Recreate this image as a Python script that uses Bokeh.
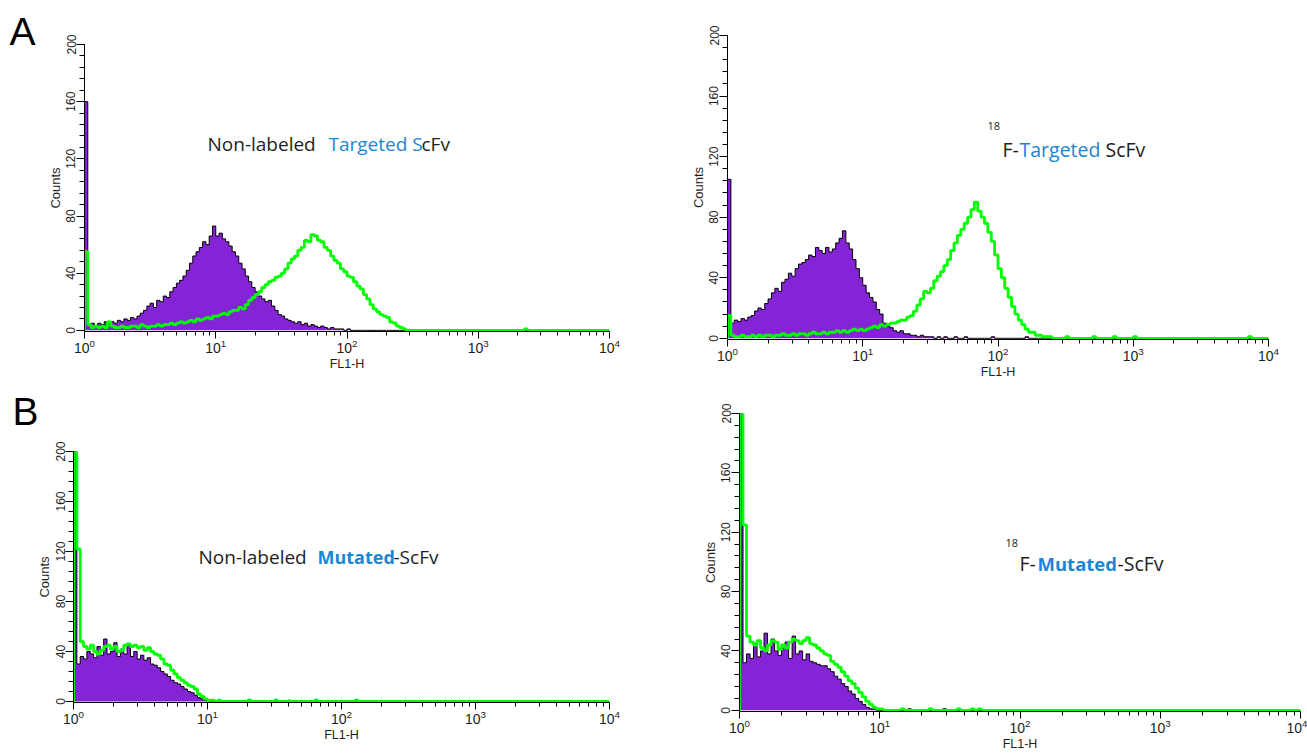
import numpy as np
from bokeh.plotting import figure
from bokeh.models import Range1d, FixedTicker, SingleIntervalTicker, Label, LogTickFormatter
from bokeh.layouts import row, column
from bokeh.embed import file_html
from bokeh.resources import INLINE

# ---------------- data (counts per log channel, 40 channels per decade) ----------------
N_CH = 161
channel = np.arange(N_CH)
fl1 = 10 ** (channel / 40.0)          # FL1-H channel centres, 10^0 .. 10^4

x_ticks = [1, 10, 100, 1000, 10000]
x_tick_minor = [m * 10 ** d for d in range(4) for m in range(2, 10)]

# Panel A, left: Non-labeled Targeted ScFv
a_left_purple = [160, 4, 5, 3, 5, 4, 6, 5, 6, 5, 7, 6, 8, 7, 9, 8, 10, 12, 14, 17,
                 19, 16, 21, 20, 24, 23, 27, 30, 33, 35, 38, 42, 47, 52, 55, 58, 62, 60, 66, 73,
                 66, 68, 64, 62, 59, 55, 52, 47, 43, 38, 34, 30, 27, 24, 22, 20, 21, 17, 14, 11,
                 10, 8, 7, 6, 5, 6, 4, 5, 3, 4, 3, 2, 3, 2, 1, 2, 1, 1, 1, 0, 1]
a_left_purple_blips = {}
a_left_green = [55, 4, 2, 3, 2, 3, 2, 6, 3, 2, 2, 3, 2, 2, 3, 3, 2, 4, 3, 2,
                3, 3, 4, 3, 4, 4, 5, 4, 5, 6, 5, 6, 7, 6, 8, 7, 8, 9, 8, 10,
                10, 11, 12, 11, 13, 14, 14, 16, 15, 18, 21, 23, 25, 27, 30, 32, 34, 35, 37, 38,
                40, 43, 47, 50, 52, 56, 58, 63, 62, 67, 66, 63, 62, 58, 56, 52, 49, 47, 43, 41,
                38, 37, 34, 31, 29, 25, 22, 18, 15, 13, 11, 10, 9, 6, 5, 3, 2, 1]
a_left_green_blips = {134: 1}

# Panel A, right: 18F-Targeted ScFv
a_right_purple = [105, 10, 12, 11, 13, 12, 14, 15, 18, 20, 19, 23, 26, 30, 33, 31, 37, 39, 43, 41,
                  46, 49, 50, 52, 55, 54, 60, 58, 56, 60, 57, 59, 63, 66, 71, 63, 59, 52, 46, 40,
                  35, 30, 27, 24, 19, 16, 10, 8, 7, 5, 4, 5, 3, 3, 2, 2, 1, 2, 1, 1,
                  1, 0, 1, 0, 1, 0, 0, 1, 0, 0, 1]
a_right_purple_blips = {78: 1, 88: 1}
a_right_green = [15, 2, 1, 1, 2, 1, 1, 2, 1, 2, 1, 2, 2, 1, 2, 2, 3, 2, 2, 3,
                 2, 3, 3, 2, 3, 4, 3, 3, 4, 3, 4, 4, 5, 4, 5, 4, 5, 6, 5, 6,
                 5, 6, 7, 8, 7, 9, 8, 9, 10, 10, 11, 12, 12, 14, 15, 18, 22, 26, 31, 30,
                 33, 38, 41, 44, 48, 52, 58, 63, 68, 72, 76, 80, 85, 90, 84, 80, 76, 70, 64, 55,
                 46, 40, 33, 27, 21, 16, 12, 9, 6, 4, 4, 2, 2, 1, 1, 1]
a_right_green_blips = {100: 1, 108: 1, 114: 1, 120: 1, 154: 1}

# Panel B, left: Non-labeled Mutated-ScFv
b_left_purple = [200, 30, 36, 34, 40, 38, 35, 44, 37, 50, 38, 40, 47, 36, 42, 38, 45, 36, 40, 34,
                 37, 33, 35, 30, 29, 27, 24, 22, 20, 17, 15, 14, 12, 10, 8, 7, 5, 3, 2, 1, 1]
b_left_purple_blips = {52: 1, 64: 1}
b_left_green = [200, 122, 48, 44, 42, 45, 40, 38, 41, 44, 45, 42, 44, 40, 41, 45, 46, 44, 45, 43,
                44, 41, 43, 40, 38, 37, 34, 30, 29, 25, 22, 19, 17, 15, 13, 12, 10, 6, 4, 2,
                1, 1, 0, 1]
b_left_green_blips = {52: 1, 60: 1, 72: 1, 84: 1}

# Panel B, right: 18F-Mutated-ScFv
b_right_purple = [200, 32, 38, 35, 45, 36, 40, 52, 38, 48, 40, 37, 42, 46, 35, 50, 38, 40, 34, 38,
                  33, 32, 31, 30, 30, 28, 26, 23, 21, 18, 16, 13, 11, 8, 6, 4, 2, 1, 1]
b_right_purple_blips = {48: 1, 58: 1}
b_right_green = [200, 125, 50, 46, 44, 47, 42, 40, 44, 47, 46, 41, 44, 42, 46, 48, 47, 45, 47, 49,
                 45, 44, 42, 40, 38, 37, 33, 31, 29, 26, 23, 20, 18, 15, 12, 9, 6, 4, 2, 1, 1]
b_right_green_blips = {46: 1, 54: 1, 62: 1, 66: 1, 68: 1}

PURPLE = "#8424D6"
GREEN = "#00FF00"
BLUE = "#1B86D1"
DARK = "#1e1e1e"
AXIS_FONT = "Liberation Sans"
TITLE_FONT = "Open Sans"


def full(head, blips):
    vals = list(head) + [0] * (N_CH - len(head))
    for k, v in blips.items():
        vals[k] = v
    return vals


def make_panel(purple, green, left, fw, right, top, fh, bottom):
    p = figure(frame_width=fw, frame_height=fh, min_border_left=left, min_border_right=right,
               min_border_top=top, min_border_bottom=bottom, x_axis_type="log",
               x_range=Range1d(1, 10000), y_range=Range1d(-0.8, 200),
               output_backend="svg", toolbar_location=None, title=None)
    p.xgrid.visible = False
    p.ygrid.visible = False
    p.outline_line_color = None
    p.background_fill_color = "white"
    p.border_fill_color = "white"

    xl = [fl1[0]] + list(fl1)
    p.varea_step(x=list(fl1), y1=[0] * N_CH, y2=purple, step_mode="after",
                 fill_color=PURPLE, fill_alpha=1.0)
    p.step(x=xl, y=[0] + purple, mode="after", line_color="black", line_width=1)
    p.step(x=xl, y=[0] + green, mode="after", line_color=GREEN, line_width=2.8)

    xa = p.xaxis[0]
    xa.ticker = FixedTicker(ticks=x_ticks, minor_ticks=x_tick_minor)
    xa.formatter = LogTickFormatter(min_exponent=0)
    xa.major_label_text_font = AXIS_FONT
    xa.major_label_text_font_size = "14px"
    xa.major_label_text_color = DARK
    xa.major_tick_out = 7
    xa.major_tick_in = 0
    xa.minor_tick_out = 4
    xa.minor_tick_in = 0
    xa.major_label_standoff = 0
    xa.axis_line_color = "black"
    xa.axis_label = "FL1-H"
    xa.axis_label_text_font = AXIS_FONT
    xa.axis_label_text_font_size = "12.5px"
    xa.axis_label_text_font_style = "normal"
    xa.axis_label_text_color = DARK
    xa.axis_label_standoff = 1

    ya = p.yaxis[0]
    ya.ticker = SingleIntervalTicker(interval=40, num_minor_ticks=5)
    ya.major_label_orientation = "vertical"
    ya.major_label_text_font = AXIS_FONT
    ya.major_label_text_font_size = "12px"
    ya.major_label_text_color = DARK
    ya.major_tick_out = 8
    ya.major_tick_in = 0
    ya.minor_tick_out = 5
    ya.minor_tick_in = 0
    ya.major_label_standoff = 1
    ya.axis_label = "Counts"
    ya.axis_label_text_font = AXIS_FONT
    ya.axis_label_text_font_size = "13px"
    ya.axis_label_text_font_style = "normal"
    ya.axis_label_text_color = DARK
    ya.axis_label_standoff = 1
    return p


def seg(p, x, y, text, color=DARK, size="19px", style="normal", baseline="alphabetic",
        font=TITLE_FONT, place="center"):
    lab = Label(x=x, y=y, x_units="screen", y_units="screen", text=text,
                text_color=color, text_font=font, text_font_size=size,
                text_font_style=style, text_baseline=baseline, text_align="left")
    p.add_layout(lab, place)


pA1 = make_panel(full(a_left_purple, a_left_purple_blips), full(a_left_green, a_left_green_blips),
                 84, 525, 41, 44, 287, 54)
pA2 = make_panel(full(a_right_purple, a_right_purple_blips), full(a_right_green, a_right_green_blips),
                 77, 541, 39, 35, 304, 46)
pB1 = make_panel(full(b_left_purple, b_left_purple_blips), full(b_left_green, b_left_green_blips),
                 73, 536, 41, 66, 251, 52)
pB2 = make_panel(full(b_right_purple, b_right_purple_blips), full(b_right_green, b_right_green_blips),
                 89, 561, 7, 28, 298, 43)

# panel letters (in the left border panel, so they are not clipped to the frame)
seg(pA1, -9, 300, "A", size="39px", font=AXIS_FONT, color="black", place="left")
seg(pB1, 5, 291, "B", size="39px", font=AXIS_FONT, color="black", place="left")

# titles
seg(pA1, 123, 188, "Non-labeled", size="19px")
seg(pA1, 244, 188, "Targeted S", color=BLUE, size="19px")
seg(pA1, 337, 188, "cFv", size="19px")

seg(pA2, 260, 218, "18", size="11px", baseline="top")
seg(pA2, 275, 190, "F-", size="19.5px")
seg(pA2, 292, 190, "Targeted", color=BLUE, size="19.5px")
seg(pA2, 378, 190, "ScFv", size="19.5px")

seg(pB1, 125, 146, "Non-labeled", size="19px")
seg(pB1, 244, 146, "Mutated", color=BLUE, size="18px", style="bold")
seg(pB1, 320, 146, "-ScFv", size="19px")

seg(pB2, 266, 173, "18", size="11px", baseline="top")
seg(pB2, 280, 148, "F-", size="19.5px")
seg(pB2, 298, 148, "Mutated", color=BLUE, size="18.5px", style="bold")
seg(pB2, 378, 148, "-ScFv", size="19.5px")

layout = column(row(column(pA1), column(pA2)), row(column(pB1), column(pB2)))

with open("out.html", "w") as f:
    f.write(file_html(layout, INLINE))
